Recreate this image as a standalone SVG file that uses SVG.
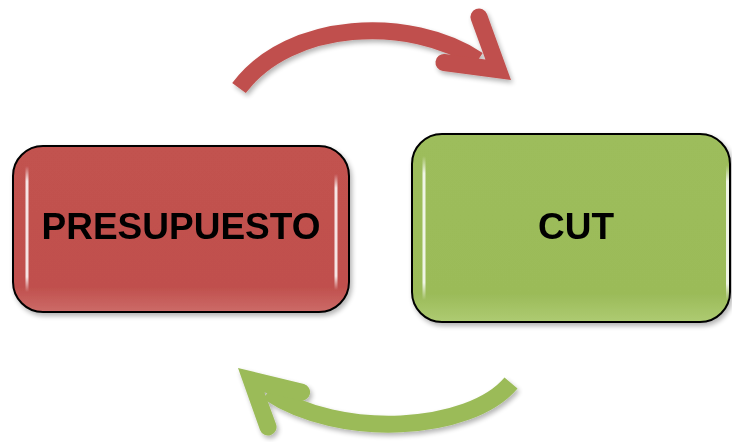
<svg xmlns="http://www.w3.org/2000/svg" width="732" height="442" viewBox="0 0 732 442">
<defs>
<filter id="sh" x="-10%" y="-10%" width="130%" height="130%">
<feGaussianBlur in="SourceAlpha" stdDeviation="2.5"/>
<feOffset dx="2" dy="3" result="b"/>
<feComponentTransfer><feFuncA type="linear" slope="0.3"/></feComponentTransfer>
<feMerge><feMergeNode/><feMergeNode in="SourceGraphic"/></feMerge>
</filter>
<linearGradient id="hl" x1="0" y1="0" x2="0" y2="1">
<stop offset="0" stop-color="#fff" stop-opacity="0"/>
<stop offset="0.12" stop-color="#fff" stop-opacity="0.85"/>
<stop offset="0.88" stop-color="#fff" stop-opacity="0.85"/>
<stop offset="1" stop-color="#fff" stop-opacity="0"/>
</linearGradient>
<linearGradient id="redg" x1="0" y1="0" x2="0" y2="1">
<stop offset="0" stop-color="#C2524F"/>
<stop offset="0.85" stop-color="#C0504D"/>
<stop offset="1" stop-color="#CC6B68"/>
</linearGradient>
<linearGradient id="greeng" x1="0" y1="0" x2="0" y2="1">
<stop offset="0" stop-color="#9DBD5B"/>
<stop offset="0.85" stop-color="#9BBB59"/>
<stop offset="1" stop-color="#AECB72"/>
</linearGradient>
</defs>
<style>
.box{stroke:#000;stroke-width:2}
.lbl{font-family:"Liberation Sans",Arial,sans-serif;font-weight:bold;font-size:37px;fill:#000;text-anchor:middle}
.hl{fill:url(#hl)}
.shaft{fill:none;stroke-width:17;stroke-linecap:butt}
</style>
<g id="connectors" filter="url(#sh)">
<g id="arrow-top">
<path class="shaft" stroke="#C0504D" d="M 239 88 C 290 20, 410 15, 478 60"/>
<path fill="#C0504D" d="M 511 80 L 443 71 A 8.5 8.5 0 0 1 445 54 L 485.4 59.5 L 471 20 A 8.5 8.5 0 0 1 487 14 Z"/>
</g>
<g id="arrow-bottom">
<path class="shaft" stroke="#9BBB59" d="M 511 383 C 470 432, 340 440, 268 392"/>
<path fill="#9BBB59" d="M 238 368 L 304 384 A 8.5 8.5 0 0 1 300 400.5 L 264.5 392.5 L 276 424 A 8.5 8.5 0 0 1 260 430 Z"/>
</g>
</g>
<g id="node-presupuesto" filter="url(#sh)">
<rect class="box" x="13" y="146" width="336" height="166" rx="30" fill="url(#redg)"/>
<rect class="hl" x="25.5" y="166" width="3" height="126"/>
<rect class="hl" x="334.5" y="174" width="3" height="116"/>
<text class="lbl" x="181" y="239">PRESUPUESTO</text>
</g>
<g id="node-cut" filter="url(#sh)">
<rect class="box" x="412" y="134" width="318" height="188" rx="30" fill="url(#greeng)"/>
<rect class="hl" x="422.5" y="156" width="3" height="144"/>
<rect class="hl" x="726" y="165" width="3" height="135"/>
<text class="lbl" x="576" y="239">CUT</text>
</g>
</svg>
